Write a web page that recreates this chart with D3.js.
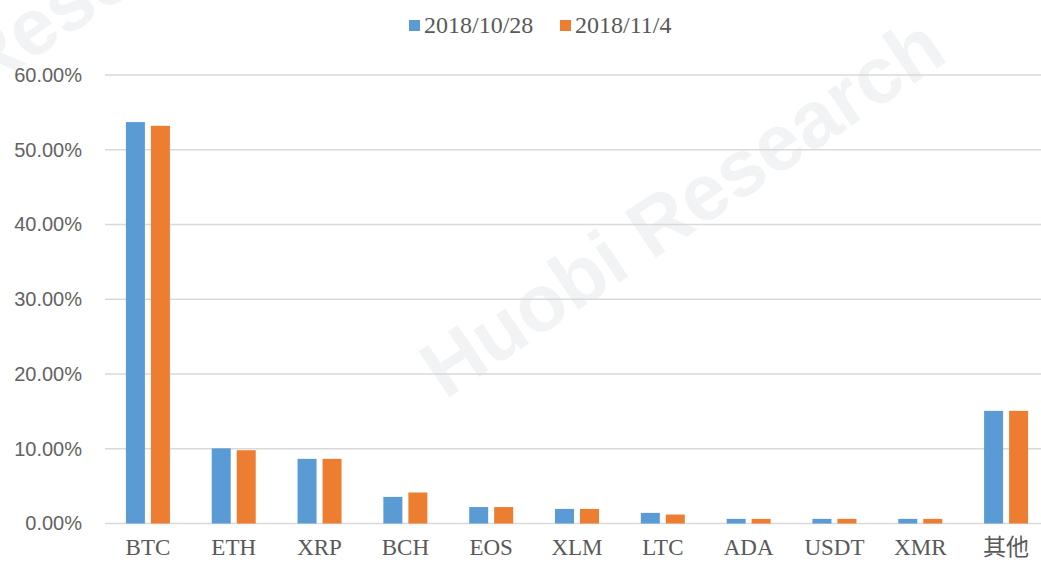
<!DOCTYPE html>
<html>
<head>
<meta charset="utf-8">
<script src="https://cdn.jsdelivr.net/npm/d3@7"></script>
<style>
  body { margin: 0; background: #fff; }
  #chart { display: block; }
  .grid line { stroke: #d9d9d9; stroke-width: 1.3px; }
  .y.axis text { font-family: "Liberation Sans", Arial, sans-serif; font-size: 20px; fill: #636363; }
  .x.axis text { font-family: "Liberation Serif", "Noto Sans CJK TC", serif; font-size: 23px; fill: #595959; }
  .legend text { font-family: "Liberation Serif", serif; font-size: 24px; fill: #595959; }
  .watermark { font-family: "Liberation Sans", Arial, sans-serif; font-weight: bold; fill: #f1f3f5; }
</style>
</head>
<body>
<svg id="chart" width="1041" height="568"></svg>
<script>
const categories = ["BTC", "ETH", "XRP", "BCH", "EOS", "XLM", "LTC", "ADA", "USDT", "XMR", "其他"];
const seriesNames = ["2018/10/28", "2018/11/4"];
const oct28 = [53.7, 10.05, 8.65, 3.56, 2.2, 1.95, 1.42, 0.62, 0.62, 0.62, 15.07];
const nov4 = [53.2, 9.8, 8.65, 4.15, 2.2, 1.95, 1.2, 0.62, 0.62, 0.62, 15.07];
const yTicks = [0, 10, 20, 30, 40, 50, 60];
const colors = ["#5b9bd5", "#ed7d31"];

const margin = {top: 75, left: 105, right: -8, bottom: 44};
const width = 1041, height = 568;
const svg = d3.select("#chart");

// faint watermark
svg.append("text").attr("class", "watermark")
  .attr("transform", "translate(445,400) rotate(-34)")
  .attr("font-size", 80).text("Huobi Research");
svg.append("text").attr("class", "watermark")
  .attr("transform", "translate(-20,95) rotate(-34)")
  .attr("font-size", 80).text("Research");

const x0 = d3.scaleBand().domain(categories)
  .range([margin.left, width - margin.right]).padding(0);
const x1 = d3.scaleBand().domain(seriesNames).range([-22, 22]).paddingInner(0.24);
const y = d3.scaleLinear().domain([0, 60]).range([523.5, margin.top]);

// gridlines
svg.append("g").attr("class", "grid")
  .selectAll("line").data(yTicks).join("line")
  .attr("x1", margin.left).attr("x2", width - margin.right)
  .attr("y1", d => y(d)).attr("y2", d => y(d));

// y axis labels
const yAxis = svg.append("g").attr("class", "y axis")
  .attr("transform", "translate(" + (margin.left - 23) + ",0)")
  .call(d3.axisLeft(y).tickValues(yTicks).tickSize(0).tickPadding(0)
    .tickFormat(d => d.toFixed(2) + "%"));
yAxis.select(".domain").remove();

// bars
const data = [oct28, nov4];
const groups = svg.append("g").selectAll("g").data(seriesNames).join("g")
  .attr("fill", (d, i) => colors[i]);
groups.selectAll("rect")
  .data((s, i) => categories.map((c, j) => ({cat: c, v: data[i][j], s: s})))
  .join("rect")
  .attr("x", d => x0(d.cat) + x0.bandwidth() / 2 + x1(d.s))
  .attr("width", x1.bandwidth())
  .attr("y", d => y(d.v))
  .attr("height", d => y(0) - y(d.v));

// x axis labels
const xAxis = svg.append("g").attr("class", "x axis")
  .attr("transform", "translate(0," + y(0) + ")")
  .call(d3.axisBottom(x0).tickSize(0).tickPadding(15));
xAxis.select(".domain").remove();
xAxis.selectAll("text").attr("dy", "0.71em");

// legend
const legendX = [409, 560];
const legend = svg.append("g").attr("class", "legend")
  .selectAll("g").data(seriesNames).join("g")
  .attr("transform", (d, i) => "translate(" + legendX[i] + ",20)");
legend.append("rect").attr("width", 11).attr("height", 11)
  .attr("fill", (d, i) => colors[i]);
legend.append("text").attr("x", 15).attr("y", 13).text(d => d);
</script>
</body>
</html>
